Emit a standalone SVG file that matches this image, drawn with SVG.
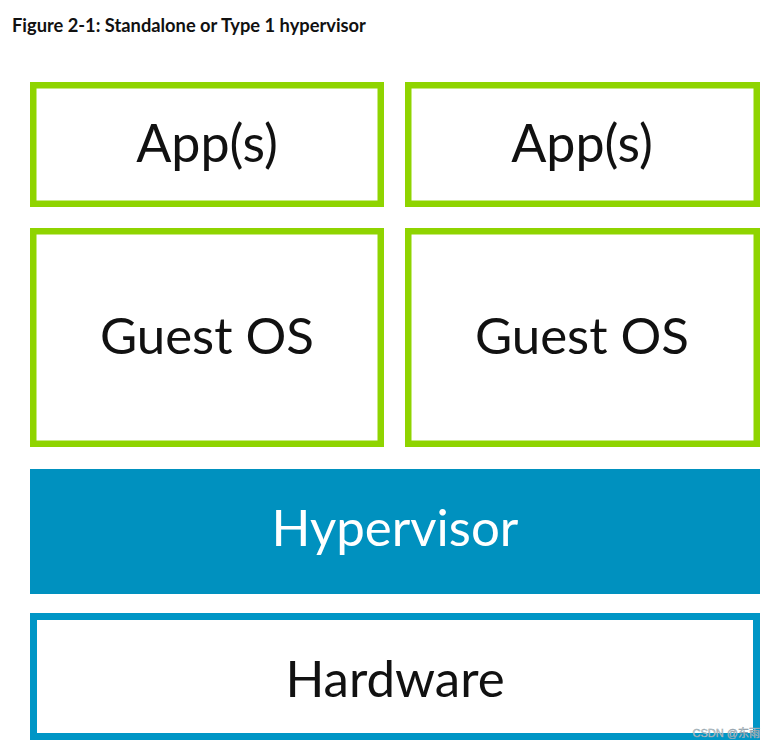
<svg xmlns="http://www.w3.org/2000/svg" width="779" height="749" viewBox="0 0 779 749">
<style>
.g{fill:#fff;stroke:#8fd400;stroke-width:6.5}
.hw{fill:#fff;stroke:#0096c6;stroke-width:7}
.t{font-family:Lato,"Liberation Sans",sans-serif;fill:#111;text-anchor:middle}
</style>
<rect width="779" height="749" fill="#fff"/>
<text x="12" y="32" font-family="Lato,'Liberation Sans',sans-serif" font-weight="bold" font-size="18.3" fill="#111">Figure 2-1: Standalone or Type 1 hypervisor</text>
<g id="app1"><rect class="g" x="33.25" y="85.25" width="347.5" height="118.5"/><text class="t" x="207" y="162" font-size="52">App(s)</text></g>
<g id="app2"><rect class="g" x="408.25" y="85.25" width="348.5" height="118.5"/><text class="t" x="582" y="162" font-size="52">App(s)</text></g>
<g id="guest1"><rect class="g" x="33.25" y="231.25" width="347.5" height="212.5"/><text class="t" x="207" y="354" font-size="51">Guest OS</text></g>
<g id="guest2"><rect class="g" x="408.25" y="231.25" width="348.5" height="212.5"/><text class="t" x="582" y="354" font-size="51">Guest OS</text></g>
<g id="hypervisor"><rect x="30" y="469" width="730" height="125" fill="#0091bf"/><text class="t" x="395" y="546" font-size="51" style="fill:#fff">Hypervisor</text></g>
<g id="hardware"><rect class="hw" x="33.5" y="616.5" width="723" height="120"/><text class="t" x="395" y="697" font-size="51">Hardware</text></g>
<g id="connectors"></g>
<text x="760" y="737" text-anchor="end" font-family="'Liberation Sans','Noto Sans CJK SC',sans-serif" font-size="11" fill="#cfd8dc" stroke="#8a9aa5" stroke-width="0.4">CSDN @东雨</text>
</svg>
